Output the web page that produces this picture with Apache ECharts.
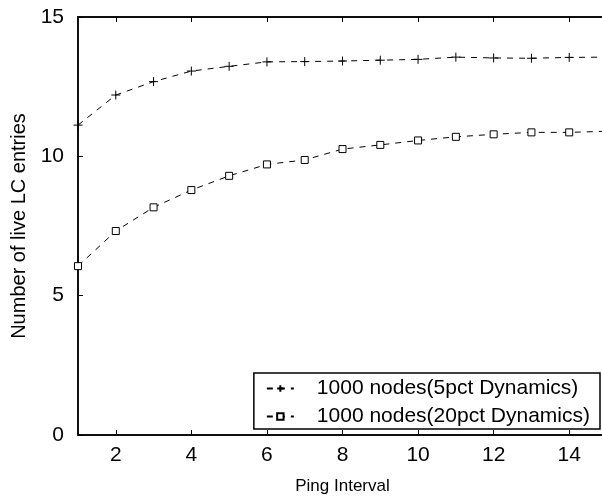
<!DOCTYPE html>
<html><head><meta charset="utf-8">
<script src="https://cdn.jsdelivr.net/npm/echarts@6/dist/echarts.min.js"></script>
<style>html,body{margin:0;padding:0;background:#fff}#c{width:602px;height:501px}</style>
</head><body><div id="c"></div>
<script>
var xValues = [1,2,3,4,5,6,7,8,9,10,11,12,13,14,15];
var series5pct = [11.12,12.2,12.68,13.06,13.23,13.39,13.4,13.42,13.45,13.48,13.56,13.53,13.52,13.55,13.56];
var series20pct = [6.06,7.32,8.17,8.79,9.30,9.71,9.87,10.26,10.41,10.57,10.70,10.79,10.86,10.86,10.9];
var xTicks = [2,4,6,8,10,12,14];
var yTicks = [0,5,10,15];
var names = ['1000 nodes(5pct Dynamics)','1000 nodes(20pct Dynamics)'];

function pairs(v){ return xValues.map(function(x,i){return [x,v[i]];}); }
var font = 'Liberation Sans, Arial, sans-serif';
var chart = echarts.init(document.getElementById('c'));
var plus = 'path://M0,5L10,5M5,0L5,10';
chart.setOption({
  animation:false,
  grid:{left:78,top:17,right:-5,bottom:66,containLabel:false,outerBoundsMode:'none',show:true,borderColor:'#000',borderWidth:1.5},
  legend:{
    orient:'vertical', right:2, bottom:72,
    backgroundColor:'#fff', borderColor:'#000', borderWidth:1.5,
    padding:[5,10,2,12], itemGap:7, itemWidth:27, itemHeight:8,
    textStyle:{fontFamily:font,fontSize:21,color:'#000',padding:[0,0,0,18]},
    data:names
  },
  xAxis:[{
    type:'value', min:1, max:15, position:'bottom',
    name:'Ping Interval', nameLocation:'middle', nameGap:43,
    nameTextStyle:{fontFamily:font,fontSize:17,color:'#000'},
    axisLine:{show:true,lineStyle:{color:'#000',width:1.5}},
    axisTick:{show:true,inside:true,length:5,customValues:xTicks,lineStyle:{color:'#000'}},
    axisLabel:{customValues:xTicks,fontFamily:font,fontSize:21,color:'#000',margin:10},
    splitLine:{show:false}
  },{
    type:'value', min:1, max:15, position:'top',
    axisLine:{show:true,lineStyle:{color:'#000',width:1.5}},
    axisTick:{show:true,inside:true,length:5,customValues:xTicks,lineStyle:{color:'#000'}},
    axisLabel:{show:false}, splitLine:{show:false}
  }],
  yAxis:{
    type:'value', min:0, max:15, interval:5,
    name:'Number of live LC entries', nameLocation:'middle', nameGap:47,
    nameTextStyle:{fontFamily:font,fontSize:20,color:'#000'},
    axisLine:{show:true,lineStyle:{color:'#000',width:1.5}},
    axisTick:{show:true,inside:true,length:5,lineStyle:{color:'#000'}},
    axisLabel:{fontFamily:font,fontSize:21,color:'#000',margin:14},
    splitLine:{show:false}
  },
  series:[{
    name:names[0], type:'line', data:pairs(series5pct),
    symbol:plus, symbolSize:9, showAllSymbol:true,
    lineStyle:{color:'#000',width:1,type:[6,6]},
    itemStyle:{color:'rgba(0,0,0,0)',borderColor:'#000',borderWidth:1}
  },{
    name:names[1], type:'line', data:pairs(series20pct),
    symbol:'rect', symbolSize:7, showAllSymbol:true,
    lineStyle:{color:'#000',width:1,type:[6,6]},
    itemStyle:{color:'#fff',borderColor:'#000',borderWidth:1}
  }]
});
</script></body></html>
